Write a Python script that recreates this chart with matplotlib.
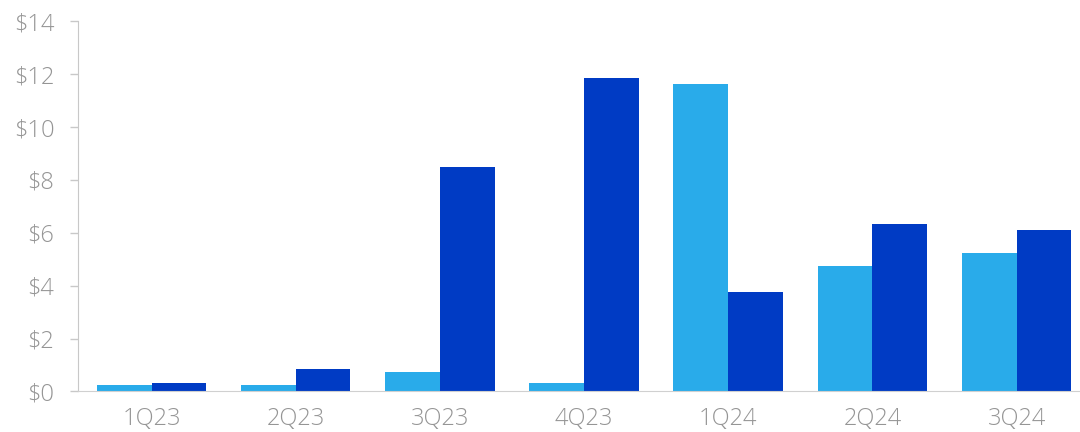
import numpy as np
import matplotlib
matplotlib.use('Agg')
import matplotlib.pyplot as plt

quarters = ['1Q23', '2Q23', '3Q23', '4Q23', '1Q24', '2Q24', '3Q24']
series_light = [0.25, 0.25, 0.74, 0.32, 11.64, 4.73, 5.23]
series_dark = [0.33, 0.84, 8.50, 11.87, 3.76, 6.34, 6.09]
yticks = [0, 2, 4, 6, 8, 10, 12, 14]

plt.rcParams['font.family'] = ['Open Sans', 'DejaVu Sans']

fig = plt.figure(figsize=(10.8, 4.32), dpi=100)
ax = fig.add_axes([0.0722, 0.0938, 0.9278, 0.857])

x = np.arange(len(quarters))
w = 0.38
ax.bar(x - w / 2, series_light, width=w, color='#29ABEA', linewidth=0)
ax.bar(x + w / 2, series_dark, width=w, color='#003BC4', linewidth=0)

ax.set_xlim(-0.51, 6.44)
ax.set_ylim(0, 14)
ax.set_yticks(yticks)
ax.set_yticklabels(['$%d' % v for v in yticks])
ax.set_xticks(x)
ax.set_xticklabels(quarters)

for s in ['top', 'right']:
    ax.spines[s].set_visible(False)
ax.spines['left'].set_color('#C8C8C8')
ax.spines['bottom'].set_color('#D0D0D0')
ax.tick_params(axis='y', colors='#C8C8C8', labelcolor='#959595', labelsize=17, length=6, width=1, pad=11)
ax.tick_params(axis='x', length=0, labelcolor='#959595', labelsize=17, pad=11)
for lbl in ax.get_xticklabels() + ax.get_yticklabels():
    lbl.set_fontweight('light')

fig.savefig('out.png', dpi=100)
